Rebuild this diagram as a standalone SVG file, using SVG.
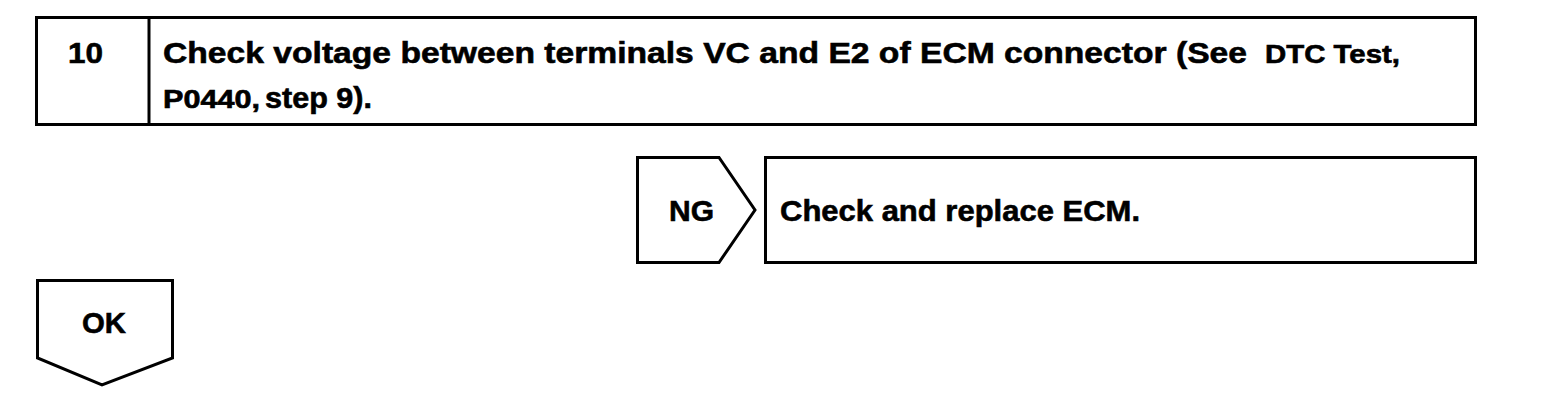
<svg xmlns="http://www.w3.org/2000/svg" width="1568" height="404" viewBox="0 0 1568 404">
<style>
.s{fill:#fff;stroke:#000;stroke-width:3;stroke-linejoin:miter}
.t{font-family:"Liberation Sans",Arial,sans-serif;font-weight:bold;fill:#000;stroke:#000;stroke-width:0.6}
.b{font-size:30px}
.m{font-size:25px}
</style>
<rect width="1568" height="404" fill="#fff"/>
<g id="step10">
<rect class="s" x="36.5" y="17.5" width="1439" height="107"/>
<line class="s" x1="149" y1="17.5" x2="149" y2="124.5"/>
<text class="t b" x="68" y="63" textLength="35" lengthAdjust="spacingAndGlyphs">10</text>
<text class="t b" x="163" y="63" textLength="1084" lengthAdjust="spacingAndGlyphs">Check voltage between terminals VC and E2 of ECM connector (See</text>
<text class="t m" x="1265" y="63" textLength="135" lengthAdjust="spacingAndGlyphs">DTC Test,</text>
<text class="t m" x="163" y="108" textLength="97" lengthAdjust="spacingAndGlyphs">P0440,</text>
<text class="t b" x="265" y="108" textLength="107" lengthAdjust="spacingAndGlyphs">step 9).</text>
</g>
<g id="ng">
<polygon class="s" points="637.5,157.5 719,157.5 755,210 719,262.5 637.5,262.5"/>
<text class="t b" x="669" y="221" textLength="45" lengthAdjust="spacingAndGlyphs">NG</text>
</g>
<g id="replace">
<rect class="s" x="765.5" y="157.5" width="710" height="105"/>
<text class="t b" x="780" y="221" textLength="360" lengthAdjust="spacingAndGlyphs">Check and replace ECM.</text>
</g>
<g id="ok">
<polygon class="s" points="37.5,280.5 172.5,280.5 172.5,358 102,385 37.5,358"/>
<text class="t b" x="82" y="333" textLength="44" lengthAdjust="spacingAndGlyphs">OK</text>
</g>
<g id="connectors"></g>
</svg>
